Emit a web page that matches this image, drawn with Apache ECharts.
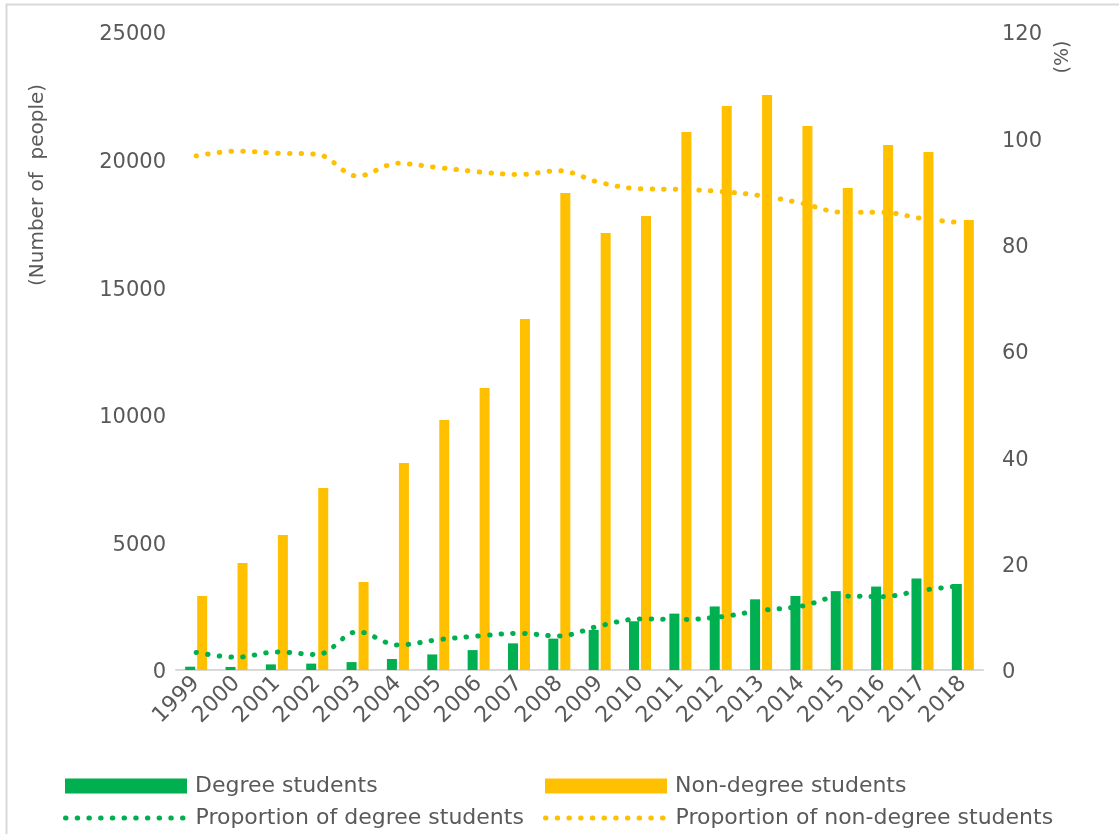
<!DOCTYPE html>
<html>
<head>
<meta charset="utf-8">
<script src="https://cdn.jsdelivr.net/npm/echarts@6/dist/echarts.min.js"></script>
<style>html,body{margin:0;padding:0;background:#fff;}#c{width:1119px;height:834px;}</style>
</head>
<body>
<div id="c"></div>
<script>
const years = ['1999','2000','2001','2002','2003','2004','2005','2006','2007','2008','2009','2010','2011','2012','2013','2014','2015','2016','2017','2018'];
const degreeStudents = [130, 120, 220, 250, 310, 430, 610, 780, 1045, 1230, 1570, 1910, 2210, 2490, 2770, 2900, 3090, 3270, 3590, 3370];
const nonDegreeStudents = [2900, 4190, 5290, 7130, 3450, 8110, 9800, 11050, 13750, 18690, 17120, 17790, 21080, 22100, 22530, 21320, 18890, 20570, 20300, 17630];
const degreeProportion = [3.3, 2.4, 3.4, 2.9, 7.2, 4.7, 5.7, 6.4, 6.9, 6.4, 8.3, 9.6, 9.5, 10.0, 11.2, 12.0, 13.9, 13.8, 15.0, 15.9];
const nonDegreeProportion = [96.7, 97.6, 97.2, 97.0, 92.9, 95.3, 94.5, 93.7, 93.2, 93.9, 91.7, 90.5, 90.4, 90.0, 89.2, 87.8, 86.1, 86.1, 84.9, 84.1];
const leftTicks = {min: 0, max: 25000, interval: 5000};
const rightTicks = {min: 0, max: 120, interval: 20};
const names = ['Degree students', 'Non-degree students', 'Proportion of degree students', 'Proportion of non-degree students'];

const GREEN = '#00B050', YELLOW = '#FFC000', TXT = '#595959';
const FONT = 'DejaVu Sans, sans-serif';
const dotted = (c) => ({color: c, width: 5, type: [0.5, 11.2], cap: 'round'});

function legendAt(name, left, top, isLine, color) {
  return {
    left: left, top: top, padding: 0, itemGap: 0,
    itemWidth: 122, itemHeight: 15,
    icon: isLine ? undefined : 'rect',
    data: [isLine ? {name: name, itemStyle: {color: 'transparent', borderWidth: 0, opacity: 0}, lineStyle: dotted(color)} : {name: name}],
    textStyle: {fontFamily: FONT, fontSize: 22, color: TXT, padding: [0, 0, 0, 3]},
    selectedMode: false
  };
}
const yLabel = (margin) => ({
  fontSize: 21, color: TXT, margin: margin, fontFamily: FONT,
  formatter: (v) => '{a|' + v + '}',
  rich: {a: {fontSize: 21, color: TXT, fontFamily: FONT, padding: [6, 0, 0, 0]}}
});

const chart = echarts.init(document.getElementById('c'));
chart.setOption({
  animation: false,
  textStyle: {fontFamily: FONT},
  graphic: [
    {type: 'rect', shape: {x: 6.5, y: 4.5, width: 1200, height: 900}, style: {fill: 'none', stroke: '#d9d9d9', lineWidth: 2}, silent: true, z: -1},
    {type: 'text', x: 38, y: 185, rotation: Math.PI / 2, style: {text: '(Number of  people)', fontFamily: FONT, fontSize: 20, fill: TXT, align: 'center', verticalAlign: 'middle'}},
    {type: 'text', x: 1063, y: 57, rotation: Math.PI / 2, style: {text: '(%)', fontFamily: FONT, fontSize: 19, fill: TXT, align: 'center', verticalAlign: 'middle'}}
  ],
  legend: [
    legendAt(names[0], 65, 775, false, GREEN),
    legendAt(names[1], 545, 775, false, YELLOW),
    legendAt(names[2], 63, 807, true, GREEN),
    legendAt(names[3], 543, 807, true, YELLOW)
  ],
  grid: {left: 176, right: 136, top: 32, bottom: 164},
  xAxis: {
    type: 'category', data: years,
    axisLine: {lineStyle: {color: '#d9d9d9', width: 2}},
    axisTick: {show: false},
    axisLabel: {rotate: 45, fontSize: 22, color: TXT, margin: 10, interval: 0, fontFamily: FONT}
  },
  yAxis: [
    {type: 'value', min: leftTicks.min, max: leftTicks.max, interval: leftTicks.interval,
     splitLine: {show: false}, axisLine: {show: false}, axisTick: {show: false},
     axisLabel: yLabel(10)},
    {type: 'value', min: rightTicks.min, max: rightTicks.max, interval: rightTicks.interval, position: 'right',
     splitLine: {show: false}, axisLine: {show: false}, axisTick: {show: false},
     axisLabel: yLabel(19)}
  ],
  series: [
    {name: names[0], type: 'bar', data: degreeStudents, barWidth: 10, barGap: '20%', itemStyle: {color: GREEN}},
    {name: names[1], type: 'bar', data: nonDegreeStudents, barWidth: 10, barGap: '20%', itemStyle: {color: YELLOW}},
    {name: names[2], type: 'line', yAxisIndex: 1, data: degreeProportion, smooth: 0.35, symbol: 'none', color: GREEN, lineStyle: dotted(GREEN), z: 3},
    {name: names[3], type: 'line', yAxisIndex: 1, data: nonDegreeProportion, smooth: 0.35, symbol: 'none', color: YELLOW, lineStyle: dotted(YELLOW), z: 3}
  ]
});
</script>
</body>
</html>
